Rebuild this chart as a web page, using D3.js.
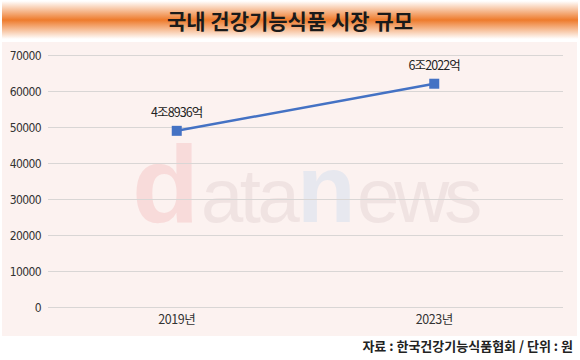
<!DOCTYPE html>
<html><head><meta charset="utf-8">
<script src="https://cdn.jsdelivr.net/npm/d3@7"></script>
<style>
html,body{margin:0;padding:0;background:#fff;}
svg{display:block;}
</style></head>
<body>
<svg id="chart" width="580" height="360"></svg>
<script>
const title = "국내 건강기능식품 시장 규모";
const categories = ["2019년", "2023년"];
const values = [48936, 62022];
const valueLabels = ["4조8936억", "6조2022억"];
const yTicks = [0, 10000, 20000, 30000, 40000, 50000, 60000, 70000];
const source = "자료 : 한국건강기능식품협회 / 단위 : 원";

const svg = d3.select("#chart");
const W = 580, H = 360;
const cjk = "'Noto Sans CJK KR', 'Noto Sans', sans-serif";

// banner gradient
const defs = svg.append("defs");
const g1 = defs.append("linearGradient").attr("id","ban").attr("x1",0).attr("y1",0).attr("x2",0).attr("y2",1);
g1.append("stop").attr("offset","0%").attr("stop-color","#ffffff");
g1.append("stop").attr("offset","50%").attr("stop-color","#ee7b2c");
g1.append("stop").attr("offset","100%").attr("stop-color","#ffffff");

svg.append("rect").attr("x",2).attr("y",1).attr("width",576).attr("height",38).attr("fill","url(#ban)");
svg.append("text").attr("x",W/2).attr("y",29).attr("text-anchor","middle")
  .attr("font-family",cjk).attr("font-weight","bold").attr("font-size",21).attr("fill","#1a1a1a")
  .text(title);

// plot background
svg.append("rect").attr("x",2).attr("y",42).attr("width",575).attr("height",294).attr("fill","#fcf2f0");

const x = d3.scaleBand().domain(categories).range([48, 563]);
const y = d3.scaleLinear().domain([0, 70000]).range([307, 55]);

// watermark (single text, styled pieces)
const wm = svg.append("text").attr("y",222).attr("font-family","'Liberation Sans', Arial, sans-serif");
wm.append("tspan").attr("x",132).attr("font-size",110).attr("font-weight","bold").attr("fill","#f8dbda").text("d");
wm.append("tspan").attr("x",201).attr("font-size",76).attr("fill","#f0e3e2").attr("letter-spacing",-3.5).text("ata");
wm.append("tspan").attr("x",297).attr("font-size",96).attr("font-weight","bold").attr("fill","#e7e8ef").attr("letter-spacing",0).text("n");
wm.append("tspan").attr("x",357).attr("font-size",76).attr("fill","#f0e3e2").attr("letter-spacing",-5).text("ews");

// grid
svg.append("g").selectAll("line").data(yTicks).join("line")
  .attr("x1",48).attr("x2",563).attr("y1",d=>y(d)).attr("y2",d=>y(d))
  .attr("stroke","#d9d6d5").attr("stroke-width",1).attr("shape-rendering","crispEdges");

// y axis labels
const yAxis = d3.axisLeft(y).tickValues(yTicks).tickSize(0).tickPadding(0).tickFormat(d3.format("d"));
const ya = svg.append("g").attr("transform","translate(41,0)").call(yAxis);
ya.select(".domain").remove();
ya.selectAll("text").attr("font-family","'DejaVu Sans Condensed', sans-serif")
  .attr("font-size",12).attr("fill","#333").attr("letter-spacing",-0.6).attr("dy","0.35em");

// x axis labels
const xAxis = d3.axisBottom(x).tickSize(0).tickPadding(0);
const xa = svg.append("g").attr("transform","translate(0,315)").call(xAxis);
xa.select(".domain").remove();
xa.selectAll("text").attr("font-family",cjk).attr("font-size",12.5).attr("fill","#333").attr("letter-spacing",-0.4);

// line
const cx = d => x(d) + x.bandwidth()/2;
const pts = categories.map((c,i)=>({c, v: values[i], l: valueLabels[i]}));
svg.append("path").datum(pts)
  .attr("d", d3.line().x(d=>cx(d.c)).y(d=>y(d.v)))
  .attr("fill","none").attr("stroke","#4472c4").attr("stroke-width",2.5);
svg.append("g").selectAll("rect").data(pts).join("rect")
  .attr("x",d=>cx(d.c)-5).attr("y",d=>y(d.v)-5).attr("width",10).attr("height",10)
  .attr("fill","#4472c4");
svg.append("g").selectAll("text").data(pts).join("text")
  .attr("x",d=>cx(d.c)).attr("y",d=>y(d.v)-18).attr("dy","0.35em").attr("text-anchor","middle")
  .attr("font-family",cjk).attr("font-size",12.5).attr("fill","#222").attr("letter-spacing",-0.9)
  .text(d=>d.l);

// source
svg.append("text").attr("x",573).attr("y",351).attr("text-anchor","end")
  .attr("font-family",cjk).attr("font-weight","bold").attr("font-size",13).attr("fill","#222")
  .text(source);
</script>
</body></html>
